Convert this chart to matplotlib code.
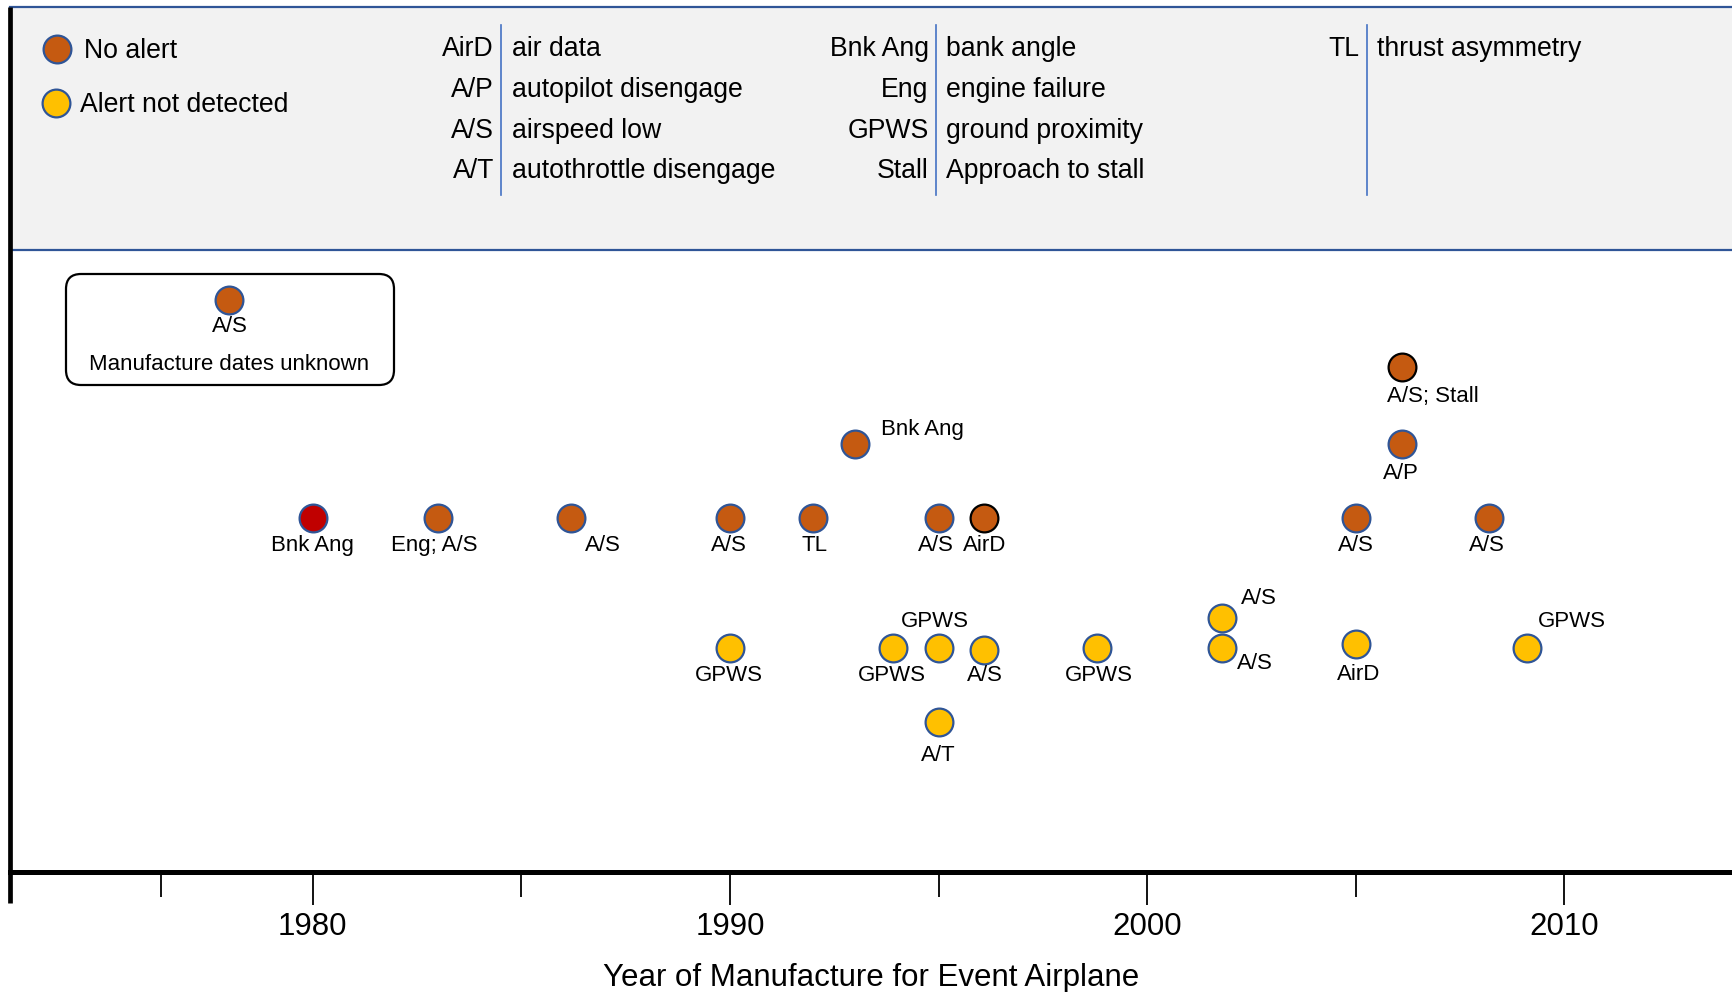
import matplotlib.pyplot as plt
from matplotlib.patches import Rectangle, FancyBboxPatch

plt.rcParams['font.family'] = ['Liberation Sans', 'DejaVu Sans']

# --- datos ---
# eventos sin alerta (naranja)
no_alert_years = [1980.0, 1983.0, 1986.2, 1990.0, 1992.0, 1995.0, 1996.1,
                  2005.0, 2008.2, 1993.0, 2006.1, 2006.1]
no_alert_levels = [4.72, 4.72, 4.72, 4.72, 4.72, 4.72, 4.72,
                   4.72, 4.72, 5.71, 5.71, 6.73]
no_alert_labels = ["Bnk Ang", "Eng; A/S", "A/S", "A/S", "TL", "A/S", "AirD",
                   "A/S", "A/S", "Bnk Ang", "A/P", "A/S; Stall"]

# alertas no detectadas (amarillo)
missed_years = [1990.0, 1993.9, 1995.0, 1996.1, 1998.8, 2001.8, 2001.8,
                2005.0, 2009.1, 1995.0]
missed_levels = [2.99, 2.99, 2.99, 2.96, 2.99, 2.99, 3.39, 3.04, 2.99, 2.0]
missed_labels = ["GPWS", "GPWS", "GPWS", "A/S", "GPWS", "A/S", "A/S",
                 "AirD", "GPWS", "A/T"]

# fecha de fabricacion desconocida
unknown_year = 1978.0
unknown_level = 7.62
unknown_label = "A/S"

major_ticks = [1980, 1990, 2000, 2010]
minor_ticks = [1976.35, 1985, 1995, 2005]

abbr_cols = [["AirD", "A/P", "A/S", "A/T"],
             ["Bnk Ang", "Eng", "GPWS", "Stall"],
             ["TL"]]
desc_cols = [["air data", "autopilot disengage", "airspeed low", "autothrottle disengage"],
             ["bank angle", "engine failure", "ground proximity", "Approach to stall"],
             ["thrust asymmetry"]]

# --- estilos / posiciones de etiquetas (puntos) ---
ORANGE = "#C55A11"
YELLOW = "#FFC000"
RED = "#C00000"
BLUE_EDGE = "#2F5597"

no_alert_fill = [RED] + [ORANGE] * 11
no_alert_edge = [BLUE_EDGE] * 6 + ["black"] + [BLUE_EDGE] * 4 + ["black"]
no_alert_off = [(0, -20), (-2.4, -20), (22.3, -20), (-0.8, -20), (0.8, -20),
                (-1.6, -20), (0, -20), (0, -20), (-1.6, -20),
                (18.3, 10.3), (-0.8, -21.5), (22.3, -21.5)]
no_alert_ha = ["center"] * 9 + ["left", "center", "center"]
missed_off = [(-0.8, -20), (-0.8, -20), (-2.7, 18.7), (0, -18.3), (1.6, -20),
              (23.8, -11.8), (26.7, 13.7), (2.4, -22.3), (32.7, 18.7), (0, -24)]

HDR_FS = 19.2
LAB_FS = 16
AX_FS = 22.5

W, H = 1732, 992
fig = plt.figure(figsize=(W / 100, H / 100), dpi=100)

# capa de fondo en pixeles para el encabezado
ov = fig.add_axes([0, 0, 1, 1], zorder=0)
ov.set_xlim(0, W)
ov.set_ylim(H, 0)
ov.axis("off")

hdr_top, hdr_bot = 7, 249.6
ov.add_patch(Rectangle((10, hdr_top), W - 10, hdr_bot - hdr_top, fc="#F2F2F2", ec="none"))
ov.plot([10, W], [hdr_top, hdr_top], color=BLUE_EDGE, lw=1.6)
ov.plot([10, W], [hdr_bot, hdr_bot], color=BLUE_EDGE, lw=1.6)
ov.plot([9.7, 9.7], [hdr_top - 0.5, 902.7], color="black", lw=3.4, solid_capstyle="butt")

# leyenda
ov.plot(56.5, 48.5, "o", ms=20, mfc=ORANGE, mec=BLUE_EDGE, mew=1.6)
ov.text(84, 50.5, "No alert", fontsize=HDR_FS, va="center", ha="left")
ov.plot(55.5, 102.5, "o", ms=20, mfc=YELLOW, mec=BLUE_EDGE, mew=1.6)
ov.text(80.5, 104.5, "Alert not detected", fontsize=HDR_FS, va="center", ha="left")

# glosario
row_y = [49, 90, 130.5, 171]
sep_x = [501, 935.5, 1366.6]
for col, (abbrs, descs) in enumerate(zip(abbr_cols, desc_cols)):
    sx = sep_x[col]
    ov.plot([sx, sx], [25, 195], color="#4472C4", lw=1.2)
    for r, (a, d) in enumerate(zip(abbrs, descs)):
        ov.text(sx - 7, row_y[r], a, fontsize=HDR_FS, ha="right", va="center")
        ov.text(sx + 10.5, row_y[r], d, fontsize=HDR_FS, ha="left", va="center")

# --- eje principal ---
ax_bottom = 871.8
ax = fig.add_axes([10 / W, (H - ax_bottom) / H, 1 - 10 / W, (ax_bottom - hdr_bot) / H], zorder=1)
ax.set_facecolor("none")
ax.set_xlim(1972.74, 2014.02)
ax.set_ylim(0, (ax_bottom - hdr_bot) / 75)

for s in ["top", "right", "left"]:
    ax.spines[s].set_visible(False)
ax.spines["bottom"].set_linewidth(3.6)
ax.set_yticks([])
ax.set_xticks(major_ticks)
ax.set_xticks(minor_ticks, minor=True)
ax.tick_params(axis="x", which="major", length=24, width=1.3, pad=5, labelsize=AX_FS)
ax.tick_params(axis="x", which="minor", length=18, width=1.3)
ax.set_xlabel("Year of Manufacture for Event Airplane", fontsize=AX_FS, labelpad=15)

for x, y, lab, fc, ec, off, ha in zip(no_alert_years, no_alert_levels, no_alert_labels,
                                       no_alert_fill, no_alert_edge, no_alert_off, no_alert_ha):
    ax.plot(x, y, "o", ms=20, mfc=fc, mec=ec, mew=1.6, clip_on=False)
    ax.annotate(lab, (x, y), xytext=off, textcoords="offset points",
                ha=ha, va="center", fontsize=LAB_FS)

for x, y, lab, off in zip(missed_years, missed_levels, missed_labels, missed_off):
    ax.plot(x, y, "o", ms=20, mfc=YELLOW, mec=BLUE_EDGE, mew=1.6, clip_on=False)
    ax.annotate(lab, (x, y), xytext=off, textcoords="offset points",
                ha="center", va="center", fontsize=LAB_FS)

# caja de fechas desconocidas
ax.plot(unknown_year, unknown_level, "o", ms=20, mfc=ORANGE, mec=BLUE_EDGE, mew=1.6)
ax.annotate(unknown_label, (unknown_year, unknown_level), xytext=(0, -19.2),
            textcoords="offset points", ha="center", va="center", fontsize=LAB_FS)
ax.annotate("Manufacture dates unknown", (unknown_year, unknown_level), xytext=(0, -46),
            textcoords="offset points", ha="center", va="center", fontsize=LAB_FS)
box = FancyBboxPatch((66, 274), 328, 111, boxstyle="round,pad=0,rounding_size=15",
                     transform=ov.transData, fc="none", ec="black", lw=1.6)
ov.add_patch(box)

fig.savefig("out.png", dpi=100)
